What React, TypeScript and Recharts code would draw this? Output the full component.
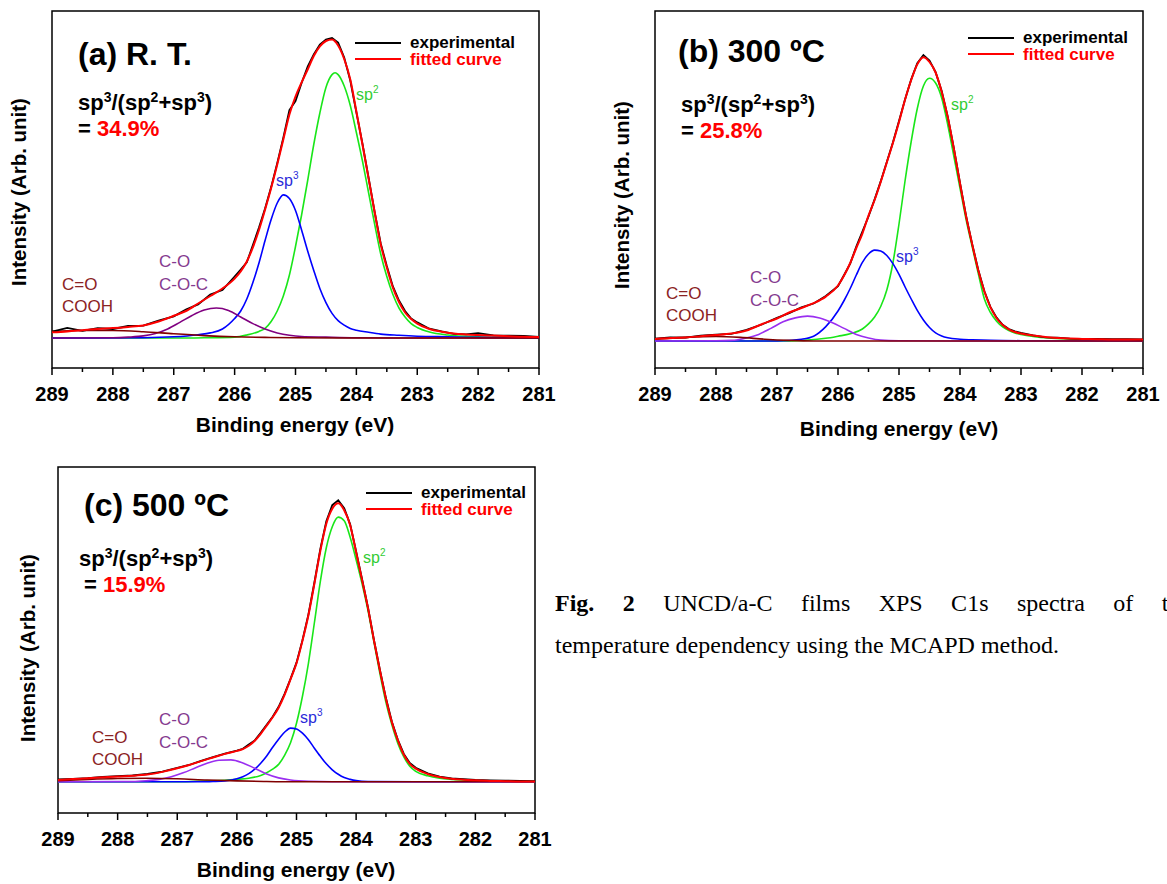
import React from "react";
import { LineChart, Line, XAxis, YAxis, ReferenceArea } from "recharts";

// shared binding-energy grid (eV) for the experimental / fitted envelopes
const energyGrid = [
  289, 288.75, 288.5, 288.25, 288, 287.75, 287.5, 287.25, 287, 286.8, 286.6, 286.4, 286.2, 286,
  285.9, 285.8, 285.7, 285.6, 285.5, 285.4, 285.3, 285.2, 285.1, 285, 284.9, 284.8, 284.7, 284.6,
  284.5, 284.4, 284.3, 284.2, 284.1, 284, 283.9, 283.8, 283.7, 283.6, 283.5, 283.4, 283.3, 283.2,
  283.1, 283, 282.8, 282.6, 282.4, 282.2, 282, 281.75, 281.5, 281.25, 281,
];

const energyTicks = [289, 288.5, 288, 287.5, 287, 286.5, 286, 285.5, 285, 284.5, 284, 283.5, 283, 282.5, 282, 281.5, 281];

// (a) R. T.
const rtFitted = [
  0.019, 0.022, 0.026, 0.03, 0.033, 0.037, 0.042, 0.055, 0.074, 0.09, 0.115, 0.14, 0.165, 0.198,
  0.222, 0.255, 0.302, 0.36, 0.428, 0.5, 0.578, 0.662, 0.745, 0.805, 0.852, 0.895, 0.94, 0.972,
  0.99, 0.995, 0.975, 0.93, 0.862, 0.755, 0.645, 0.532, 0.42, 0.312, 0.235, 0.168, 0.12, 0.085,
  0.063, 0.048, 0.03, 0.021, 0.015, 0.012, 0.01, 0.008, 0.006, 0.004, 0.003,
];
const rtExperimental = [
  0.021, 0.034, 0.024, 0.033, 0.03, 0.04, 0.041, 0.058, 0.072, 0.095, 0.112, 0.145, 0.16, 0.205,
  0.228, 0.252, 0.31, 0.368, 0.432, 0.503, 0.583, 0.668, 0.76, 0.79, 0.85, 0.905, 0.945, 0.978,
  0.995, 1.0, 0.985, 0.935, 0.858, 0.752, 0.648, 0.535, 0.42, 0.315, 0.24, 0.172, 0.125, 0.09,
  0.065, 0.052, 0.031, 0.022, 0.014, 0.012, 0.016, 0.009, 0.008, 0.007, 0.004,
];
const rtSp2: [number, number][] = [
  [289, 0], [287, 0], [286.5, 0.001], [286, 0.003], [285.8, 0.01], [285.6, 0.022], [285.5, 0.032],
  [285.4, 0.055], [285.3, 0.09], [285.2, 0.14], [285.1, 0.21], [285, 0.305], [284.9, 0.41],
  [284.8, 0.525], [284.7, 0.645], [284.6, 0.75], [284.5, 0.835], [284.4, 0.878], [284.35, 0.884],
  [284.3, 0.878], [284.2, 0.84], [284.1, 0.775], [284, 0.685], [283.9, 0.59], [283.8, 0.485],
  [283.7, 0.38], [283.6, 0.28], [283.5, 0.205], [283.4, 0.145], [283.3, 0.1], [283.2, 0.07],
  [283.1, 0.048], [283, 0.035], [282.8, 0.02], [282.5, 0.01], [282, 0.004], [281.5, 0.002], [281, 0.001],
];
const rtSp3: [number, number][] = [
  [289, 0], [287.5, 0.001], [287, 0.004], [286.6, 0.011], [286.4, 0.017], [286.2, 0.03], [286, 0.065],
  [285.9, 0.09], [285.8, 0.13], [285.7, 0.185], [285.6, 0.25], [285.5, 0.325], [285.4, 0.395],
  [285.3, 0.45], [285.2, 0.477], [285.1, 0.465], [285, 0.425], [284.9, 0.36], [284.8, 0.29],
  [284.7, 0.225], [284.6, 0.165], [284.5, 0.118], [284.4, 0.082], [284.3, 0.058], [284.2, 0.043],
  [284.1, 0.032], [284, 0.026], [283.8, 0.019], [283.6, 0.013], [283.3, 0.009], [283, 0.006],
  [282.5, 0.004], [282, 0.002], [281, 0.001],
];
const rtCO: [number, number][] = [
  [289, 0], [288, 0.001], [287.75, 0.003], [287.5, 0.007], [287.3, 0.015], [287.1, 0.03], [286.9, 0.052],
  [286.7, 0.075], [286.5, 0.093], [286.3, 0.1], [286.1, 0.092], [285.9, 0.07], [285.7, 0.048],
  [285.5, 0.03], [285.3, 0.017], [285.1, 0.009], [284.9, 0.005], [284.5, 0.003], [284, 0.001], [283, 0], [281, 0],
];
const rtCOOH: [number, number][] = [
  [289, 0.022], [288.5, 0.025], [288, 0.025], [287.5, 0.021], [287, 0.014], [286.5, 0.008], [286, 0.004],
  [285.5, 0.002], [285, 0.001], [284, 0], [281, 0],
];

// (b) 300 ºC
const t300Fitted = [
  0.007, 0.01, 0.012, 0.016, 0.02, 0.025, 0.035, 0.056, 0.075, 0.095, 0.11, 0.126, 0.148, 0.185,
  0.218, 0.26, 0.31, 0.358, 0.418, 0.47, 0.53, 0.595, 0.66, 0.73, 0.805, 0.87, 0.922, 0.946,
  0.93, 0.895, 0.83, 0.745, 0.64, 0.525, 0.415, 0.322, 0.235, 0.165, 0.112, 0.076, 0.053, 0.039,
  0.03, 0.025, 0.018, 0.013, 0.01, 0.008, 0.007, 0.006, 0.005, 0.005, 0.005,
];
const t300Experimental = [
  0.008, 0.012, 0.011, 0.018, 0.021, 0.024, 0.037, 0.055, 0.077, 0.093, 0.112, 0.125, 0.15, 0.183,
  0.22, 0.258, 0.315, 0.365, 0.415, 0.472, 0.532, 0.597, 0.662, 0.733, 0.806, 0.872, 0.926, 0.953,
  0.935, 0.896, 0.833, 0.747, 0.642, 0.527, 0.417, 0.323, 0.237, 0.166, 0.113, 0.078, 0.054, 0.04,
  0.032, 0.027, 0.019, 0.012, 0.011, 0.008, 0.007, 0.007, 0.006, 0.006, 0.005,
];
const t300Sp2: [number, number][] = [
  [289, 0], [287, 0], [286.5, 0.003], [286.2, 0.009], [286, 0.016], [285.8, 0.024], [285.6, 0.04],
  [285.5, 0.057], [285.4, 0.08], [285.3, 0.115], [285.2, 0.17], [285.1, 0.26], [285, 0.39],
  [284.9, 0.535], [284.8, 0.665], [284.7, 0.775], [284.6, 0.85], [284.5, 0.876], [284.4, 0.86],
  [284.3, 0.81], [284.2, 0.72], [284.1, 0.615], [284, 0.51], [283.9, 0.405], [283.8, 0.314],
  [283.7, 0.225], [283.6, 0.14], [283.5, 0.095], [283.4, 0.066], [283.3, 0.047], [283.2, 0.035],
  [283.1, 0.027], [283, 0.022], [282.8, 0.015], [282.5, 0.009], [282, 0.005], [281.5, 0.003], [281, 0.002],
];
const t300Sp3: [number, number][] = [
  [289, 0], [287, 0], [286.6, 0.006], [286.4, 0.016], [286.2, 0.048], [286, 0.1], [285.9, 0.135],
  [285.8, 0.175], [285.7, 0.22], [285.6, 0.262], [285.5, 0.29], [285.4, 0.303], [285.3, 0.3],
  [285.2, 0.285], [285.1, 0.258], [285, 0.222], [284.9, 0.18], [284.8, 0.14], [284.7, 0.102],
  [284.6, 0.07], [284.5, 0.045], [284.4, 0.027], [284.3, 0.017], [284.2, 0.011], [284, 0.006],
  [283.8, 0.004], [283.5, 0.002], [283, 0.001], [281, 0],
];
const t300CO: [number, number][] = [
  [289, 0], [288, 0.001], [287.75, 0.002], [287.5, 0.01], [287.3, 0.022], [287.1, 0.042], [286.9, 0.064],
  [286.7, 0.077], [286.5, 0.083], [286.3, 0.077], [286.1, 0.062], [285.9, 0.042], [285.7, 0.022],
  [285.5, 0.01], [285.3, 0.003], [285, 0.001], [284, 0], [281, 0],
];
const t300COOH: [number, number][] = [
  [289, 0.006], [288.5, 0.012], [288, 0.015], [287.6, 0.012], [287.2, 0.006], [286.8, 0.002], [286.4, 0], [281, 0],
];

// (c) 500 ºC
const t500Fitted = [
  0.006, 0.009, 0.012, 0.015, 0.018, 0.02, 0.024, 0.033, 0.045, 0.056, 0.069, 0.081, 0.093, 0.103,
  0.109, 0.12, 0.137, 0.16, 0.187, 0.215, 0.247, 0.29, 0.342, 0.395, 0.47, 0.555, 0.66, 0.77,
  0.86, 0.91, 0.928, 0.905, 0.855, 0.765, 0.672, 0.578, 0.47, 0.37, 0.277, 0.198, 0.138, 0.09,
  0.06, 0.044, 0.026, 0.016, 0.01, 0.007, 0.005, 0.003, 0.002, 0.001, 0.001,
];
const t500Experimental = [
  0.008, 0.01, 0.012, 0.016, 0.019, 0.021, 0.026, 0.034, 0.046, 0.056, 0.07, 0.082, 0.094, 0.104,
  0.11, 0.124, 0.138, 0.163, 0.19, 0.217, 0.25, 0.293, 0.343, 0.397, 0.472, 0.558, 0.664, 0.776,
  0.868, 0.922, 0.938, 0.912, 0.858, 0.768, 0.675, 0.58, 0.472, 0.372, 0.279, 0.2, 0.14, 0.093,
  0.063, 0.047, 0.028, 0.017, 0.011, 0.009, 0.006, 0.005, 0.004, 0.003, 0.002,
];
const t500Sp2: [number, number][] = [
  [289, 0], [287, 0], [286.5, 0.003], [286.2, 0.005], [286, 0.008], [285.8, 0.012], [285.6, 0.021],
  [285.5, 0.03], [285.4, 0.042], [285.3, 0.058], [285.2, 0.088], [285.1, 0.13], [285, 0.195],
  [284.9, 0.285], [284.8, 0.395], [284.7, 0.53], [284.6, 0.668], [284.5, 0.78], [284.4, 0.85],
  [284.3, 0.882], [284.2, 0.87], [284.1, 0.815], [284, 0.74], [283.9, 0.66], [283.8, 0.57],
  [283.7, 0.465], [283.6, 0.36], [283.5, 0.265], [283.4, 0.19], [283.3, 0.128], [283.2, 0.083],
  [283.1, 0.052], [283, 0.035], [282.8, 0.02], [282.6, 0.012], [282.4, 0.008], [282, 0.004], [281.5, 0.002], [281, 0.001],
];
const t500Sp3: [number, number][] = [
  [289, 0], [286.6, 0], [286.4, 0.001], [286.2, 0.003], [286, 0.01], [285.9, 0.017], [285.8, 0.027],
  [285.7, 0.042], [285.6, 0.062], [285.5, 0.086], [285.4, 0.115], [285.3, 0.142], [285.2, 0.165],
  [285.1, 0.179], [285, 0.176], [284.9, 0.162], [284.8, 0.14], [284.7, 0.112], [284.6, 0.085],
  [284.5, 0.06], [284.4, 0.04], [284.3, 0.025], [284.2, 0.014], [284.1, 0.008], [284, 0.004],
  [283.8, 0.001], [283, 0], [281, 0],
];
const t500CO: [number, number][] = [
  [289, 0], [287.75, 0.001], [287.5, 0.004], [287.3, 0.008], [287.1, 0.017], [286.9, 0.03], [286.7, 0.046],
  [286.5, 0.062], [286.3, 0.072], [286.1, 0.073], [285.9, 0.063], [285.7, 0.045], [285.5, 0.026],
  [285.3, 0.013], [285.1, 0.006], [284.8, 0.002], [284, 0], [281, 0],
];
const t500COOH: [number, number][] = [
  [289, 0.004], [288.5, 0.008], [288, 0.011], [287.5, 0.012], [287, 0.01], [286.5, 0.006], [286, 0.003],
  [285.5, 0.001], [285, 0], [281, 0],
];

const SANS = "'Liberation Sans', Arial, sans-serif";
const GREEN = "#19e619";
const BLUE = "#0000ff";
const COOH_LINE = "#800000";

type Row = { e: number; v: number };
type Series = { id: string; color: string; rows: Row[]; width: number; curve: "monotone" | "linear" };

const gridRows = (values: number[]): Row[] => energyGrid.map((e, i) => ({ e, v: values[i] }));
const pairRows = (pairs: [number, number][]): Row[] => pairs.map(([e, v]) => ({ e, v }));

function buildSeries(
  fitted: number[],
  experimental: number[],
  sp2: [number, number][],
  sp3: [number, number][],
  co: [number, number][],
  cooh: [number, number][],
  coColor: string
): Series[] {
  return [
    { id: "sp2", color: GREEN, rows: pairRows(sp2), width: 1.6, curve: "monotone" },
    { id: "sp3", color: BLUE, rows: pairRows(sp3), width: 1.6, curve: "monotone" },
    { id: "co", color: coColor, rows: pairRows(co), width: 1.6, curve: "monotone" },
    { id: "cooh", color: COOH_LINE, rows: pairRows(cooh), width: 1.6, curve: "monotone" },
    { id: "exp", color: "#000", rows: gridRows(experimental), width: 1.8, curve: "linear" },
    { id: "fit", color: "#ff0000", rows: gridRows(fitted), width: 2, curve: "monotone" },
  ];
}

// major ticks (integers) get a label, half-eV ticks are short minor marks
const EnergyTick = (props: any) => {
  const { x, y, payload } = props;
  const major = Math.abs(payload.value - Math.round(payload.value)) < 1e-6;
  return (
    <g>
      <line x1={x} x2={x} y1={y} y2={y + (major ? 7 : 4)} stroke="#000" strokeWidth={1.5} />
      {major && (
        <text x={x} y={y + 33} textAnchor="middle" fontSize={20} fontWeight="bold" fontFamily={SANS} fill="#000">
          {payload.value}
        </text>
      )}
    </g>
  );
};

const AXIS_H = 40;

function Panel(props: {
  left: number;
  top: number;
  width: number;
  height: number;
  margin: { top: number; right: number; bottom: number; left: number };
  yDomain: [number, number];
  series: Series[];
}) {
  const { left, top, width, height, margin, yDomain, series } = props;
  return (
    <div style={{ position: "absolute", left, top }}>
      <LineChart width={width} height={height} margin={{ ...margin, bottom: margin.bottom - AXIS_H }}>
        <XAxis
          xAxisId="e"
          type="number"
          dataKey="e"
          domain={[281, 289]}
          reversed
          allowDataOverflow
          ticks={energyTicks}
          interval={0}
          axisLine={false}
          tickLine={false}
          tickSize={0}
          tickMargin={0}
          height={AXIS_H}
          tick={(p: any) => <EnergyTick {...p} />}
        />
        <YAxis yAxisId="i" type="number" domain={yDomain} allowDataOverflow hide />
        <ReferenceArea
          xAxisId="e"
          yAxisId="i"
          x1={281}
          x2={289}
          y1={yDomain[0]}
          y2={yDomain[1]}
          fill="none"
          stroke="#000"
          strokeWidth={1.5}
        />
        {series.map((s) => (
          <Line
            key={s.id}
            xAxisId="e"
            yAxisId="i"
            data={s.rows}
            dataKey="v"
            type={s.curve}
            stroke={s.color}
            strokeWidth={s.width}
            dot={false}
            activeDot={false}
            isAnimationActive={false}
          />
        ))}
      </LineChart>
    </div>
  );
}

function Annotations(props: {
  title: string;
  tx: number;
  ty: number;
  rx: number;
  ry: number;
  ex: number;
  pct: string;
  legX: number;
  legY: number;
  sp2: [number, number];
  sp3: [number, number];
  co: [number, number];
  cooh: [number, number];
  xTitle: [number, number];
  yTitle: [number, number];
}) {
  const p = props;
  return (
    <g fontFamily={SANS}>
      <text x={p.tx} y={p.ty} fontSize={32} fontWeight="bold" fill="#000">
        {p.title}
      </text>
      <text x={p.rx} y={p.ry} fontSize={22} fontWeight="bold" fill="#000">
        sp
        <tspan dy={-8} fontSize={14}>3</tspan>
        <tspan dy={8}>/(sp</tspan>
        <tspan dy={-8} fontSize={14}>2</tspan>
        <tspan dy={8}>+sp</tspan>
        <tspan dy={-8} fontSize={14}>3</tspan>
        <tspan dy={8}>)</tspan>
      </text>
      <text x={p.ex} y={p.ry + 26} fontSize={22} fontWeight="bold" fill="#000">
        {"= "}
        <tspan fill="#ff0000">{p.pct}</tspan>
      </text>
      <line x1={p.legX} x2={p.legX + 46} y1={p.legY} y2={p.legY} stroke="#000" strokeWidth={2} />
      <line x1={p.legX} x2={p.legX + 46} y1={p.legY + 16} y2={p.legY + 16} stroke="#ff0000" strokeWidth={2} />
      <text x={p.legX + 55} y={p.legY + 5} fontSize={17} fontWeight="bold" fill="#000">
        experimental
      </text>
      <text x={p.legX + 55} y={p.legY + 22} fontSize={17} fontWeight="bold" fill="#ff0000">
        fitted curve
      </text>
      <text x={p.sp2[0]} y={p.sp2[1]} fontSize={16} fill="#33cc33">
        sp
        <tspan dy={-7} fontSize={10}>2</tspan>
      </text>
      <text x={p.sp3[0]} y={p.sp3[1]} fontSize={16} fill="#2b2bd9">
        sp
        <tspan dy={-7} fontSize={10}>3</tspan>
      </text>
      <text x={p.co[0]} y={p.co[1]} fontSize={17} fill="#853a8f">
        C-O
      </text>
      <text x={p.co[0]} y={p.co[1] + 23} fontSize={17} fill="#853a8f">
        C-O-C
      </text>
      <text x={p.cooh[0]} y={p.cooh[1]} fontSize={17} fill="#8b2323">
        C=O
      </text>
      <text x={p.cooh[0]} y={p.cooh[1] + 22} fontSize={17} fill="#8b2323">
        COOH
      </text>
      <text x={p.xTitle[0]} y={p.xTitle[1]} textAnchor="middle" fontSize={21} fontWeight="bold" fill="#000">
        Binding energy (eV)
      </text>
      <text
        x={p.yTitle[0]}
        y={p.yTitle[1]}
        textAnchor="middle"
        dominantBaseline="central"
        fontSize={20.5}
        fontWeight="bold"
        fill="#000"
        transform={`rotate(-90 ${p.yTitle[0]} ${p.yTitle[1]})`}
      >
        Intensity (Arb. unit)
      </text>
    </g>
  );
}

export default function App() {
  const rtSeries = buildSeries(rtFitted, rtExperimental, rtSp2, rtSp3, rtCO, rtCOOH, "#800080");
  const t300Series = buildSeries(t300Fitted, t300Experimental, t300Sp2, t300Sp3, t300CO, t300COOH, "#9a2ef0");
  const t500Series = buildSeries(t500Fitted, t500Experimental, t500Sp2, t500Sp3, t500CO, t500COOH, "#9a2ef0");

  return (
    <div
      style={{
        position: "absolute",
        left: 0,
        top: 0,
        width: 1167,
        height: 884,
        overflow: "hidden",
        background: "#fff",
      }}
    >
      <Panel
        left={0}
        top={0}
        width={560}
        height={440}
        margin={{ top: 11, right: 21, bottom: 72, left: 52 }}
        yDomain={[-0.1, 1.09]}
        series={rtSeries}
      />
      <Panel
        left={600}
        top={0}
        width={567}
        height={440}
        margin={{ top: 11, right: 24, bottom: 72, left: 55 }}
        yDomain={[-0.09, 1.1]}
        series={t300Series}
      />
      <Panel
        left={0}
        top={455}
        width={560}
        height={429}
        margin={{ top: 12, right: 25, bottom: 71, left: 58 }}
        yDomain={[-0.104, 1.049]}
        series={t500Series}
      />

      <svg width={1167} height={884} style={{ position: "absolute", left: 0, top: 0, pointerEvents: "none" }}>
        <Annotations
          title="(a) R. T."
          tx={78}
          ty={65}
          rx={78}
          ry={110}
          ex={78}
          pct="34.9%"
          legX={355}
          legY={43}
          sp2={[356, 100]}
          sp3={[276, 186]}
          co={[159, 267]}
          cooh={[62, 290]}
          xTitle={[295, 432]}
          yTitle={[18, 192]}
        />
        <Annotations
          title="(b) 300 ºC"
          tx={678}
          ty={62}
          rx={681}
          ry={112}
          ex={681}
          pct="25.8%"
          legX={968}
          legY={38}
          sp2={[951, 110]}
          sp3={[896, 262]}
          co={[750, 283]}
          cooh={[666, 299]}
          xTitle={[899, 436]}
          yTitle={[621, 195]}
        />
        <Annotations
          title="(c) 500 ºC"
          tx={84}
          ty={516}
          rx={79}
          ry={566}
          ex={84}
          pct="15.9%"
          legX={366}
          legY={493}
          sp2={[363, 563]}
          sp3={[300, 723]}
          co={[159, 725]}
          cooh={[92, 743]}
          xTitle={[296, 877]}
          yTitle={[27, 648]}
        />
      </svg>

      <div
        style={{
          position: "absolute",
          left: 555,
          top: 591,
          width: 636,
          fontFamily: "'Liberation Serif', 'Times New Roman', serif",
          fontSize: 24,
          lineHeight: "24px",
          textAlign: "justify",
          textAlignLast: "justify",
          whiteSpace: "nowrap",
          color: "#000",
        }}
      >
        <b>Fig. 2</b> UNCD/a-C films XPS C1s spectra of the
      </div>
      <div
        style={{
          position: "absolute",
          left: 555,
          top: 633,
          fontFamily: "'Liberation Serif', 'Times New Roman', serif",
          fontSize: 24,
          lineHeight: "24px",
          whiteSpace: "nowrap",
          color: "#000",
        }}
      >
        temperature dependency using the MCAPD method.
      </div>
    </div>
  );
}
